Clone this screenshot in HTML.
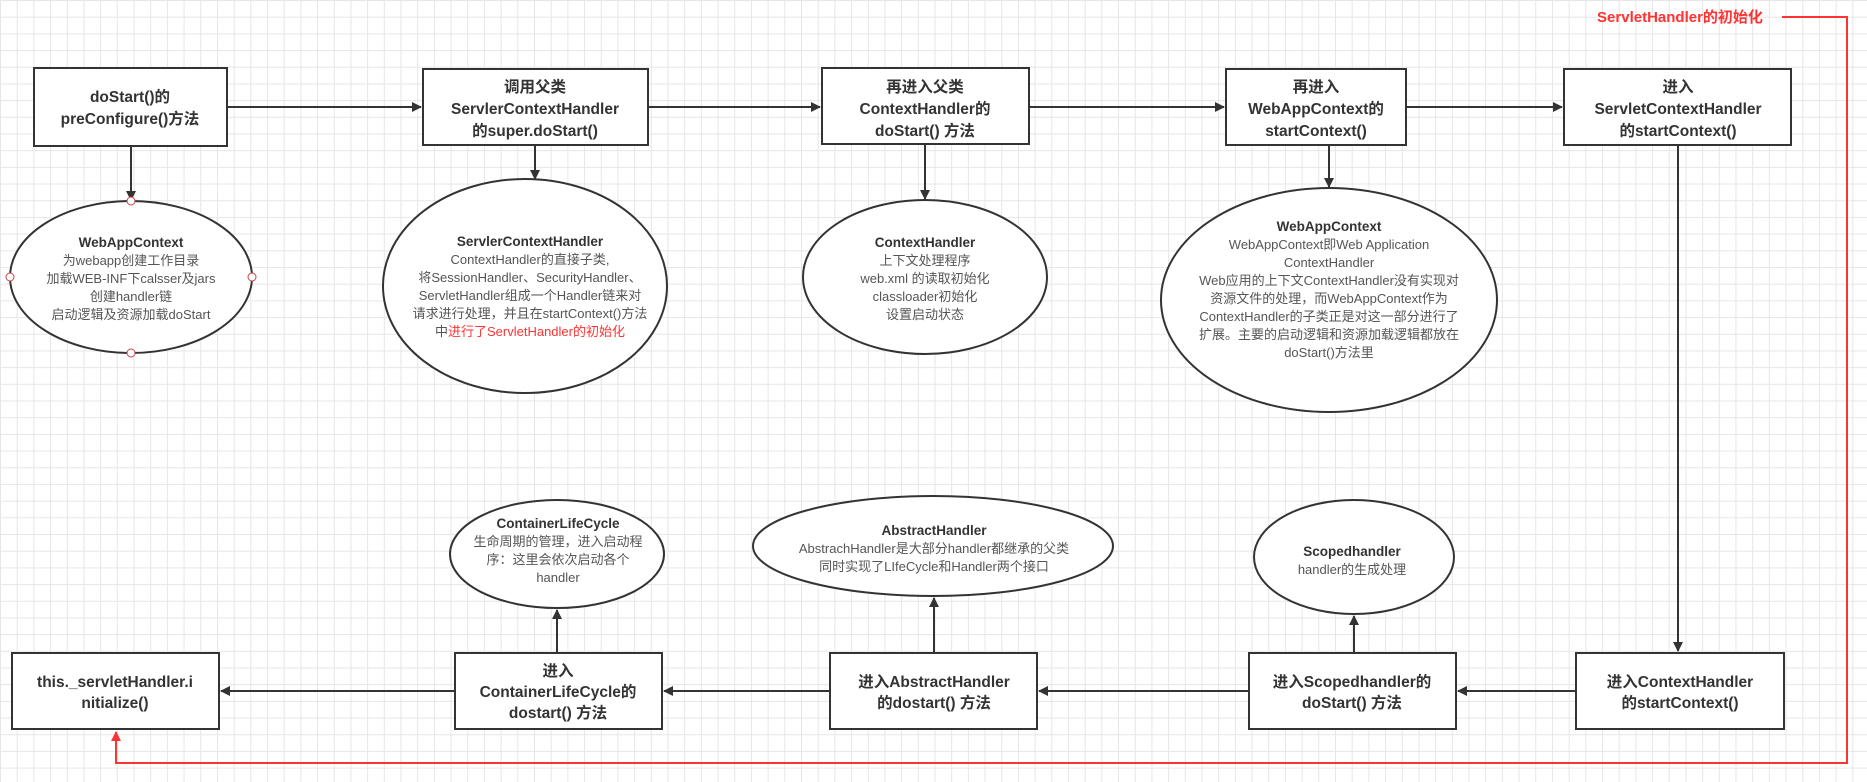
<!DOCTYPE html>
<html><head><meta charset="utf-8">
<style>
html,body{margin:0;padding:0;}
body{width:1867px;height:782px;overflow:hidden;background:#fff;
background-image:linear-gradient(#e6e6e6 1px,transparent 1px),linear-gradient(90deg,#e6e6e6 1px,transparent 1px);
background-size:16.7px 16.7px;}
svg{position:absolute;left:0;top:0;}
text{font-family:"Liberation Sans","Noto Sans CJK SC",sans-serif;}
.b{font-size:15.5px;font-weight:bold;fill:#333;text-anchor:middle;}
.t{font-size:13.5px;font-weight:bold;fill:#333;text-anchor:middle;}
.n{font-size:13px;fill:#555;text-anchor:middle;}
.r{fill:#f33;}
</style></head><body>
<svg width="1867" height="782" viewBox="0 0 1867 782">
<defs>
<marker id="a" markerWidth="10" markerHeight="10" refX="9" refY="5" orient="auto" markerUnits="userSpaceOnUse"><path d="M0,0 L10,5 L0,10 z" fill="#333"/></marker>
<marker id="ar" markerWidth="10" markerHeight="12" refX="9" refY="5" orient="auto" markerUnits="userSpaceOnUse"><path d="M0,0 L10,5 L0,10 z" fill="#f33"/></marker>
</defs>
<g stroke="#333" stroke-width="2" fill="#fff">
<!-- top boxes -->
<rect x="34" y="68" width="193" height="78"/>
<rect x="423" y="69" width="225" height="76"/>
<rect x="822" y="68" width="207" height="76"/>
<rect x="1226" y="95" width="0" height="0"/>
<rect x="1226" y="69" width="180" height="76"/>
<rect x="1564" y="69" width="227" height="76"/>
<!-- bottom boxes -->
<rect x="12" y="653" width="207" height="76"/>
<rect x="455" y="653" width="207" height="76"/>
<rect x="830" y="653" width="207" height="76"/>
<rect x="1249" y="653" width="207" height="76"/>
<rect x="1576" y="653" width="208" height="76"/>
<!-- ellipses -->
<ellipse cx="131" cy="277" rx="121" ry="76"/>
<ellipse cx="525" cy="286" rx="142" ry="107"/>
<ellipse cx="925" cy="277" rx="122" ry="77"/>
<ellipse cx="1329" cy="300" rx="168" ry="112"/>
<ellipse cx="557" cy="554" rx="107" ry="54"/>
<ellipse cx="933" cy="546" rx="180" ry="50"/>
<ellipse cx="1354" cy="557" rx="100" ry="57"/>
</g>
<g stroke="#333" stroke-width="2" fill="none">
<line x1="227" y1="107" x2="421" y2="107" marker-end="url(#a)"/>
<line x1="648" y1="107" x2="820" y2="107" marker-end="url(#a)"/>
<line x1="1029" y1="107" x2="1224" y2="107" marker-end="url(#a)"/>
<line x1="1406" y1="107" x2="1562" y2="107" marker-end="url(#a)"/>
<line x1="131" y1="146" x2="131" y2="200" marker-end="url(#a)"/>
<line x1="535" y1="145" x2="535" y2="179" marker-end="url(#a)"/>
<line x1="925" y1="144" x2="925" y2="199" marker-end="url(#a)"/>
<line x1="1329" y1="145" x2="1329" y2="187" marker-end="url(#a)"/>
<line x1="1678" y1="145" x2="1678" y2="651" marker-end="url(#a)"/>
<line x1="1576" y1="691" x2="1458" y2="691" marker-end="url(#a)"/>
<line x1="1249" y1="691" x2="1039" y2="691" marker-end="url(#a)"/>
<line x1="830" y1="691" x2="664" y2="691" marker-end="url(#a)"/>
<line x1="455" y1="691" x2="221" y2="691" marker-end="url(#a)"/>
<line x1="557" y1="653" x2="557" y2="610" marker-end="url(#a)"/>
<line x1="934" y1="653" x2="934" y2="598" marker-end="url(#a)"/>
<line x1="1354" y1="653" x2="1354" y2="616" marker-end="url(#a)"/>
</g>
<g fill="#fff" stroke="#c44" stroke-width="1">
<circle cx="131" cy="201" r="4"/><circle cx="131" cy="353" r="4"/><circle cx="10" cy="277" r="4"/><circle cx="252" cy="277" r="4"/>
</g>
<polyline points="1782,17 1847,17 1847,763 116,763 116,732" fill="none" stroke="#f33" stroke-width="2" marker-end="url(#ar)"/>
<text x="1680" y="22" class="b r" style="font-size:15px">ServletHandler的初始化</text>

<text class="b"><tspan x="130" y="102">doStart()的</tspan><tspan x="130" y="124">preConfigure()方法</tspan></text>
<text class="b"><tspan x="535" y="92">调用父类</tspan><tspan x="535" y="114">ServlerContextHandler</tspan><tspan x="535" y="136">的super.doStart()</tspan></text>
<text class="b"><tspan x="925" y="92">再进入父类</tspan><tspan x="925" y="114">ContextHandler的</tspan><tspan x="925" y="136">doStart() 方法</tspan></text>
<text class="b"><tspan x="1316" y="92">再进入</tspan><tspan x="1316" y="114">WebAppContext的</tspan><tspan x="1316" y="136">startContext()</tspan></text>
<text class="b"><tspan x="1678" y="92">进入</tspan><tspan x="1678" y="114">ServletContextHandler</tspan><tspan x="1678" y="136">的startContext()</tspan></text>

<text class="b"><tspan x="115" y="687">this._servletHandler.i</tspan><tspan x="115" y="708">nitialize()</tspan></text>
<text class="b"><tspan x="558" y="676">进入</tspan><tspan x="558" y="697">ContainerLifeCycle的</tspan><tspan x="558" y="718">dostart() 方法</tspan></text>
<text class="b"><tspan x="934" y="687">进入AbstractHandler</tspan><tspan x="934" y="708">的dostart() 方法</tspan></text>
<text class="b"><tspan x="1352" y="687">进入Scopedhandler的</tspan><tspan x="1352" y="708">doStart() 方法</tspan></text>
<text class="b"><tspan x="1680" y="687">进入ContextHandler</tspan><tspan x="1680" y="708">的startContext()</tspan></text>

<text><tspan x="131" y="247" class="t">WebAppContext</tspan><tspan x="131" y="265" class="n">为webapp创建工作目录</tspan><tspan x="131" y="283" class="n">加载WEB-INF下calsser及jars</tspan><tspan x="131" y="301" class="n">创建handler链</tspan><tspan x="131" y="319" class="n">启动逻辑及资源加载doStart</tspan></text>
<text><tspan x="530" y="246" class="t">ServlerContextHandler</tspan><tspan x="530" y="264" class="n">ContextHandler的直接子类,</tspan><tspan x="530" y="282" class="n">将SessionHandler、SecurityHandler、</tspan><tspan x="530" y="300" class="n">ServletHandler组成一个Handler链来对</tspan><tspan x="530" y="318" class="n">请求进行处理，并且在startContext()方法</tspan><tspan x="530" y="336" class="n">中<tspan class="r">进行了ServletHandler的初始化</tspan></tspan></text>
<text><tspan x="925" y="247" class="t">ContextHandler</tspan><tspan x="925" y="265" class="n">上下文处理程序</tspan><tspan x="925" y="283" class="n">web.xml 的读取初始化</tspan><tspan x="925" y="301" class="n">classloader初始化</tspan><tspan x="925" y="319" class="n">设置启动状态</tspan></text>
<text><tspan x="1329" y="231" class="t">WebAppContext</tspan><tspan x="1329" y="249" class="n">WebAppContext即Web Application</tspan><tspan x="1329" y="267" class="n">ContextHandler</tspan><tspan x="1329" y="285" class="n">Web应用的上下文ContextHandler没有实现对</tspan><tspan x="1329" y="303" class="n">资源文件的处理，而WebAppContext作为</tspan><tspan x="1329" y="321" class="n">ContextHandler的子类正是对这一部分进行了</tspan><tspan x="1329" y="339" class="n">扩展。主要的启动逻辑和资源加载逻辑都放在</tspan><tspan x="1329" y="357" class="n">doStart()方法里</tspan></text>
<text><tspan x="558" y="528" class="t">ContainerLifeCycle</tspan><tspan x="558" y="546" class="n">生命周期的管理，进入启动程</tspan><tspan x="558" y="564" class="n">序：这里会依次启动各个</tspan><tspan x="558" y="582" class="n">handler</tspan></text>
<text><tspan x="934" y="535" class="t">AbstractHandler</tspan><tspan x="934" y="553" class="n">AbstrachHandler是大部分handler都继承的父类</tspan><tspan x="934" y="571" class="n">同时实现了LIfeCycle和Handler两个接口</tspan></text>
<text><tspan x="1352" y="556" class="t">Scopedhandler</tspan><tspan x="1352" y="574" class="n">handler的生成处理</tspan></text>
</svg>
</body></html>
